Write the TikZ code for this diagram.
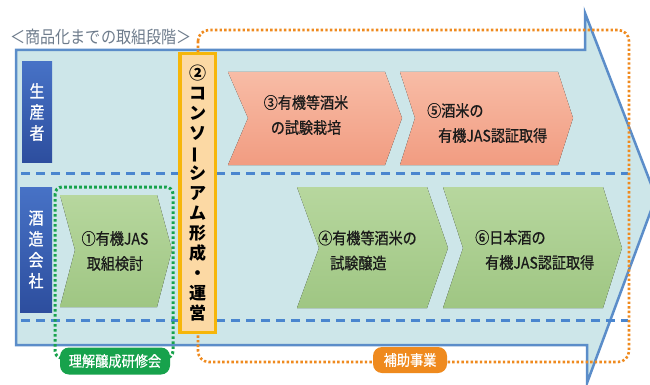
\documentclass[tikz,border=0pt]{standalone}
\usepackage{fontspec}
\usepackage{graphicx}
\newfontfamily\jp[FakeStretch=0.88]{Noto Sans CJK JP}
\newfontfamily\jpm[FakeStretch=0.88,FakeBold=0.7]{Noto Sans CJK JP}
\newfontfamily\jpn{Noto Sans CJK JP}
\definecolor{arrowfill}{HTML}{CDE6E9}
\definecolor{arrowline}{HTML}{5B8DC9}
\definecolor{dashblue}{HTML}{4A86CF}
\definecolor{salmontop}{HTML}{F8BCA6}
\definecolor{salmonbot}{HTML}{F19C81}
\definecolor{greentop}{HTML}{B7D79E}
\definecolor{greenbot}{HTML}{9FC683}
\definecolor{bluetop}{HTML}{4772C6}
\definecolor{bluebot}{HTML}{2D4E9E}
\definecolor{confill}{HTML}{FCD9A4}
\definecolor{conline}{HTML}{F6B60A}
\definecolor{dotorange}{HTML}{EF8A1E}
\definecolor{dotgreen}{HTML}{17A24C}
\definecolor{titlegray}{HTML}{6E7C8C}
\definecolor{txt}{HTML}{1A1A1A}
\begin{document}
\begin{tikzpicture}[x=1pt,y=-1pt,
  bigarrow/.style={fill=arrowfill,draw=arrowline,line width=2.5pt,line join=miter},
  bluedash/.style={draw=dashblue,line width=3pt,dash pattern=on 9pt off 6pt},
  orangedot/.style={draw=dotorange,line width=2.6pt,dash pattern=on 2.4pt off 2.2pt,rounded corners=11pt},
  greendot/.style={draw=dotgreen,line width=3pt,dash pattern=on 2.6pt off 2.4pt,rounded corners=7pt},
  salmonchev/.style={top color=salmontop,bottom color=salmonbot,draw=none},
  greenchev/.style={top color=greentop,bottom color=greenbot,draw=none},
  chevtext/.style={inner sep=0pt,text=txt,font=\jpm\fontsize{16}{25}\selectfont},
  bluebox/.style={top color=bluetop,bottom color=bluebot,draw=none,text=white,inner sep=0pt,
     align=center,font=\jpm\fontsize{17}{21}\selectfont},
  conbox/.style={fill=confill,draw=conline,line width=3.5pt,inner sep=0pt,align=center,
     text=black,font=\jpn\bfseries\fontsize{17}{20}\selectfont},
  tag/.style={rounded corners=9pt,text=white,inner sep=0pt,font=\jpm\fontsize{15}{15}\selectfont},
  title/.style={inner sep=0pt,text=titlegray,font=\jp\fontsize{17.2}{17}\selectfont}
]
\useasboundingbox (0,0) rectangle (650,385);
\clip (0,0) rectangle (650,385);
\fill[white] (0,0) rectangle (650,385);

\node[title] (title) at (101,37) {＜商品化までの取組段階＞};

% big arrow
\draw[bigarrow] (16,50) -- (585,50) -- (585,13) -- (656,197) -- (587,383) -- (587,345) -- (16,345) -- cycle;

% lane separators
\draw[bluedash] (21,173) -- (628,173);
\draw[bluedash] (21,320) -- (628,320);

% subsidy frame (orange dotted)
\draw[orangedot] (198,30) rectangle (629,362);

% green dotted frame
\draw[greendot] (55,187) rectangle (173,358);

% chevrons
\fill[greenchev] (60,195) -- (157,195) -- (172,250) -- (157,307) -- (60,307) -- (75,250) -- cycle;
\fill[salmonchev] (228,72) -- (385,72) -- (402,118) -- (385,165) -- (228,165) -- (248,118) -- cycle;
\fill[salmonchev] (400,72) -- (558,72) -- (573,118) -- (558,165) -- (400,165) -- (415,118) -- cycle;
\fill[greenchev] (297,187) -- (427,187) -- (448,248) -- (427,308) -- (297,308) -- (319,248) -- cycle;
\fill[greenchev] (443,187) -- (603,187) -- (622,248) -- (603,308) -- (443,308) -- (463,248) -- cycle;

\node[chevtext,align=center] (s1) at (115,251) {①有機JAS\\取組検討};
\node[chevtext,align=center] (s3) at (306,115) {③有機等酒米\\の試験栽培};
\node[chevtext,align=left,anchor=west] (s5) at (427,123) {⑤酒米の\\\hspace*{11pt}有機JAS認証取得};
\node[chevtext,align=left,anchor=west] (s4) at (318,250.5) {④有機等酒米の\\\hspace*{12pt}試験醸造};
\node[chevtext,align=left,anchor=west] (s6) at (475,250) {⑥日本酒の\\\hspace*{10pt}有機JAS認証取得};

% lane labels
\node[bluebox,minimum width=30pt,minimum height=100pt] (seisan) at (37,112) {生\\産\\者};
\node[bluebox,minimum width=32pt,minimum height=125pt] (shuzo) at (36,249.5) {酒\\造\\会\\社};

% consortium box
\node[conbox,minimum width=35.5pt,minimum height=278.5pt] (con) at (197.5,193)
  {②\\コ\\ン\\ソ\\\rotatebox[origin=c]{90}{ー}\\シ\\ア\\ム\\形\\成\\・\\運\\営};

% tags
\node[tag,fill=dotgreen,minimum width=110pt,minimum height=27pt] (rikai) at (115,361) {理解醸成研修会};
\node[tag,fill=dotorange,minimum width=74pt,minimum height=26pt] (hojo) at (410,360) {補助事業};
\end{tikzpicture}
\end{document}
